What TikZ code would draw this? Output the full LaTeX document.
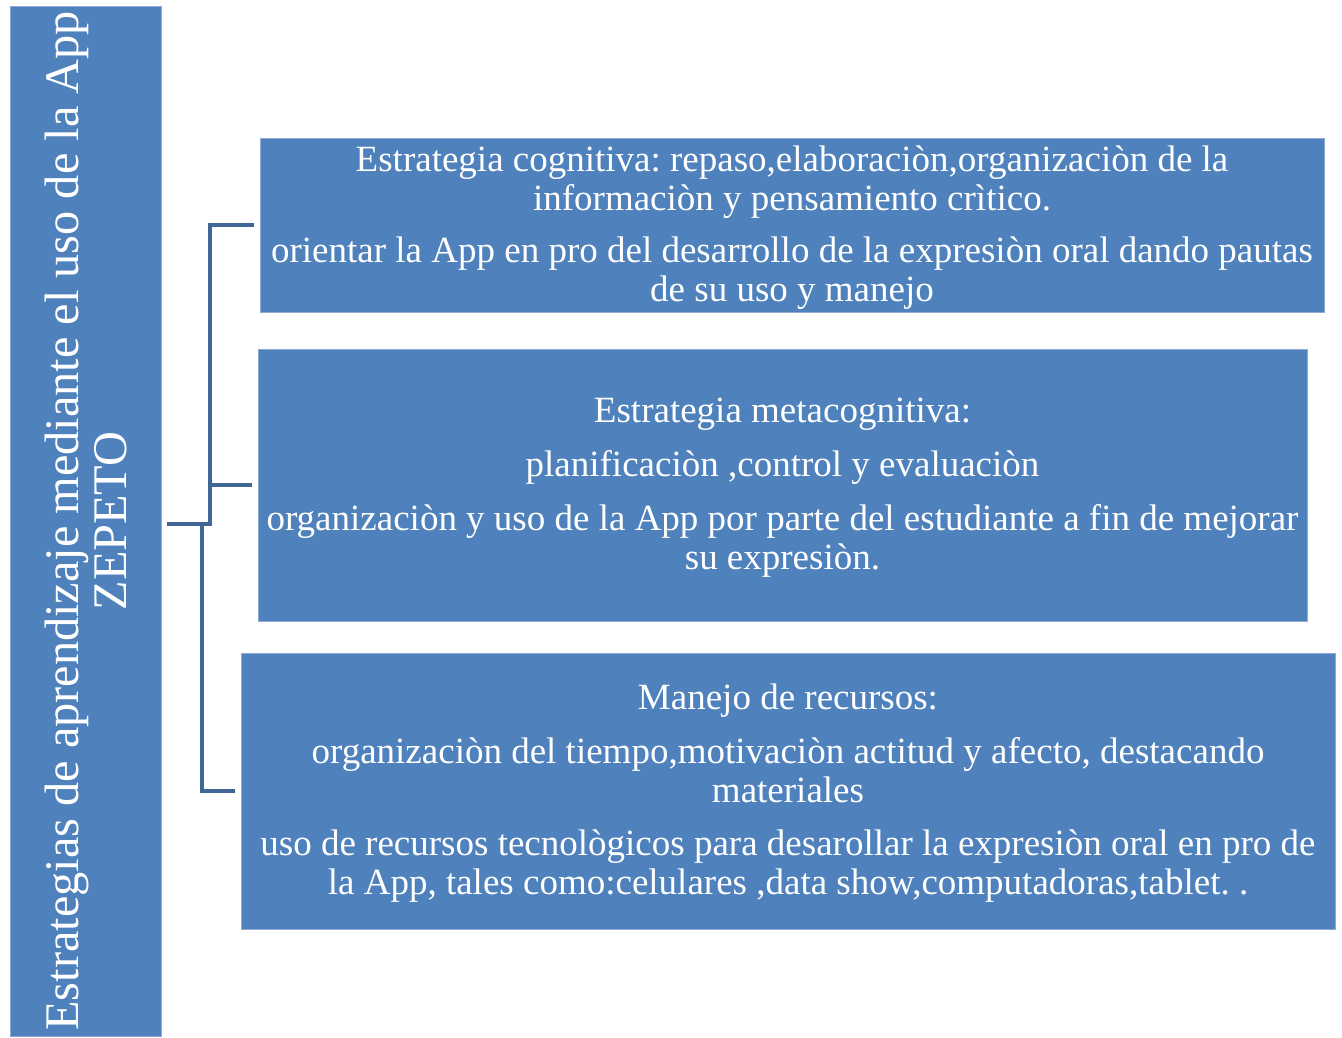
\documentclass[tikz,border=0pt]{standalone}
\usepackage{fontspec}
\setmainfont{Liberation Serif}
\frenchspacing
\definecolor{boxblue}{RGB}{79,129,189}
\definecolor{boxedge}{RGB}{140,170,210}
\definecolor{linkblue}{RGB}{64,102,150}
\tikzset{
  box/.style={fill=boxblue, draw=boxedge, line width=0.8pt, inner sep=0pt},
  boxtext/.style={text=white, align=center, inner sep=0pt, font=\fontsize{37}{39}\selectfont},
  sidebox/.style={fill=boxblue, draw=boxedge, line width=0.8pt, text=white, align=center, inner sep=0pt,
    font=\fontsize{48.3}{48}\selectfont, rotate=90},
  link/.style={draw=linkblue, line width=4pt}
}
\begin{document}
\begin{tikzpicture}[x=1pt,y=-1pt]
\fill[white] (0,0) rectangle (1342,1038);
\node[sidebox, minimum width=1030pt, minimum height=151pt] (side) at (85.5,521)
  {Estrategias de aprendizaje mediante el uso de la App\\ZEPETO};
\node[box, minimum width=1064pt, minimum height=174pt] (b1) at (792,225) {};
\node[box, minimum width=1049pt, minimum height=272pt] (b2) at (782.5,485) {};
\node[box, minimum width=1094pt, minimum height=276pt] (b3) at (788,791) {};
\node[boxtext] (t1) at ([yshift=-3pt]b1.center)
  {Estrategia cognitiva: repaso,elaboraciòn,organizaciòn de la\\
   informaciòn y pensamiento crìtico.\\[13pt]
   orientar la App en pro del desarrollo de la expresiòn oral dando pautas\\
   de su uso y manejo};
\node[boxtext] (t2) at ([yshift=-3pt]b2.center)
  {Estrategia metacognitiva:\\[15pt]
   planificaciòn ,control y evaluaciòn\\[15pt]
   organizaciòn y uso de la App por parte del estudiante a fin de mejorar\\
   su expresiòn.};
\node[boxtext] (t3) at ([yshift=-2pt]b3.center)
  {Manejo de recursos:\\[15pt]
   organizaciòn del tiempo,motivaciòn actitud y afecto, destacando\\
   materiales\\[14pt]
   uso de recursos tecnològicos para desarollar la expresiòn oral en pro de\\
   la App, tales como:celulares ,data show,computadoras,tablet. .};
\coordinate (root) at (167,524);
\coordinate (up) at (210,524);
\coordinate (down) at (202,524);
\draw[link] (root) -- (up) |- ([xshift=-6pt]b1.west);
\draw[link] (up |- b2.west) -- ([xshift=-6pt]b2.west);
\draw[link] (down) |- ([xshift=-6pt]b3.west);
\end{tikzpicture}
\end{document}
